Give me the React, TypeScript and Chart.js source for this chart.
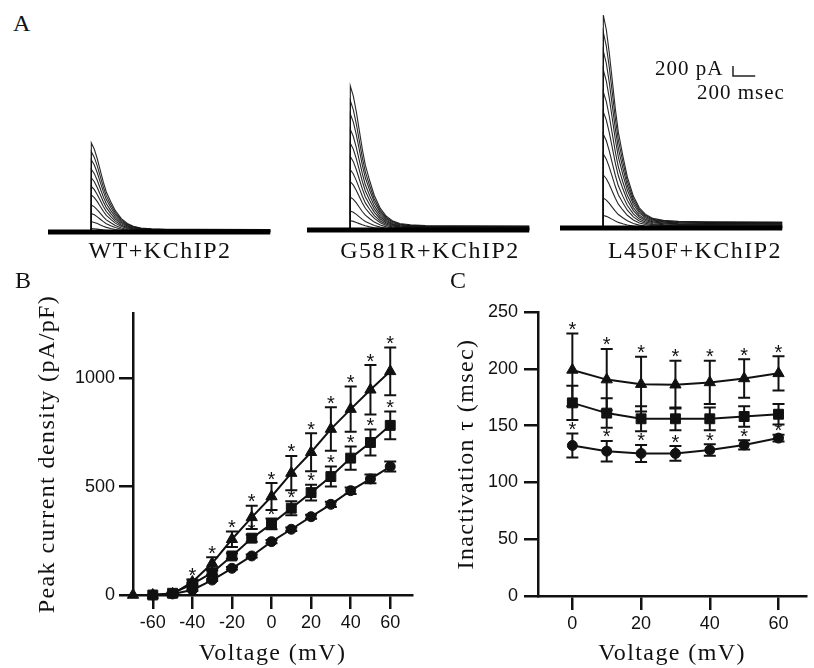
import React, { useEffect, useRef } from "react";
import { Chart, registerables } from "chart.js";

Chart.register(...registerables);

// ---------------- Panel A: current traces ----------------
const TRACE_VOLTAGES = [-60, -50, -40, -30, -20, -10, 0, 10, 20, 30, 40, 50, 60];
const WT_PEAKS_PA = [0, 15, 70, 205, 370, 540, 740, 910, 1080, 1255, 1440, 1605, 1780];
const G581R_PEAKS_PA = [0, 30, 185, 380, 660, 965, 1205, 1470, 1735, 2010, 2320, 2585, 2880];
const L450F_PEAKS_PA = [0, 20, 250, 600, 1060, 1480, 1875, 2320, 2720, 3160, 3540, 3910, 4260];
// normalised decay of the transient after the step (time after onset, ms)
const DECAY_T_MS = [0, 27, 54, 81, 108, 135, 175, 216, 270, 324, 378, 445, 540, 675, 945, 1610];
const DECAY_FRAC = [1, 0.93, 0.82, 0.69, 0.56, 0.45, 0.34, 0.24, 0.15, 0.095, 0.065, 0.045, 0.036, 0.031, 0.029, 0.028];
const STEP_ONSET_MS = 390;
const SWEEP_END_MS = 2000;
const TRACE_LABELS = ["WT+KChIP2", "G581R+KChIP2", "L450F+KChIP2"];
const SCALE_BAR_PA = 200;
const SCALE_BAR_MS = 200;

// ---------------- Panel B: I-V ----------------
const VOLT_B = [-70, -60, -50, -40, -30, -20, -10, 0, 10, 20, 30, 40, 50, 60];
const WT_B = [null, 0, 5, 23, 69, 123, 180, 246, 303, 361, 418, 481, 535, 592];
const WT_B_SEM = [0, 0, 2, 4, 5, 6, 7, 8, 8, 9, 12, 15, 20, 23];
const WT_B_SIG = [0, 0, 0, 0, 0, 0, 0, 0, 0, 0, 0, 0, 0, 0];
const G581R_B = [null, 0, 8, 50, 103, 180, 262, 328, 400, 472, 546, 631, 703, 782];
const G581R_B_SEM = [0, 0, 3, 7, 10, 13, 16, 25, 32, 36, 46, 54, 60, 64];
const G581R_B_SIG = [0, 0, 0, 0, 0, 0, 1, 1, 1, 1, 1, 1, 1, 1];
const L450F_B = [0, 0, 5, 60, 146, 257, 358, 454, 562, 658, 765, 857, 946, 1031];
const L450F_B_SEM = [0, 0, 3, 12, 28, 36, 54, 62, 79, 88, 100, 104, 114, 110];
const L450F_B_SIG = [0, 0, 0, 1, 1, 1, 1, 1, 1, 1, 1, 1, 1, 1];
const B_X_TICKS = [-60, -40, -20, 0, 20, 40, 60];
const B_Y_TICKS = [0, 500, 1000];

// ---------------- Panel C: inactivation tau ----------------
const VOLT_C = [0, 10, 20, 30, 40, 50, 60];
const WT_C = [132.5, 127.5, 125.5, 125.5, 128.5, 133, 139];
const WT_C_SEM = [10.5, 9, 7.5, 6.5, 5, 4, 3];
const WT_C_SIG = [1, 1, 1, 1, 1, 1, 1];
const G581R_C = [170, 161, 156, 156, 156, 158, 160];
const G581R_C_SEM = [15, 13, 11, 10, 10, 9, 9];
const G581R_C_SIG = [0, 0, 0, 0, 0, 0, 0];
const L450F_C = [199, 190.5, 186.5, 186, 188, 191.5, 196];
const L450F_C_SEM = [32, 27, 24, 21, 19, 17, 15];
const L450F_C_SIG = [1, 1, 1, 1, 1, 1, 1];
const C_X_TICKS = [0, 20, 40, 60];
const C_Y_TICKS = [0, 50, 100, 150, 200, 250];

const SERIF = '"Liberation Serif", "Times New Roman", serif';
const SANS = '"Liberation Sans", Arial, sans-serif';
const INK = "#111";

function spacingPlugin(px: number) {
  return {
    id: "spacedTitles",
    beforeDraw(chart: any) {
      chart.ctx.letterSpacing = `${px}px`;
    },
    beforeDatasetsDraw(chart: any) {
      chart.ctx.letterSpacing = "0px";
    },
    afterDraw(chart: any) {
      chart.ctx.letterSpacing = "0px";
    },
  };
}

const errorBarPlugin = {
  id: "errorBars",
  afterDatasetsDraw(chart: any) {
    const { ctx } = chart;
    const xs = chart.scales.x;
    const ys = chart.scales.y;
    ctx.save();
    ctx.strokeStyle = INK;
    ctx.fillStyle = INK;
    ctx.lineWidth = 2;
    chart.data.datasets.forEach((ds: any) => {
      (ds.data as any[]).forEach((p: any) => {
        if (p.y == null) return;
        const px = xs.getPixelForValue(p.x);
        const top = ys.getPixelForValue(p.y + (p.sem || 0));
        const bot = ys.getPixelForValue(p.y - (p.sem || 0));
        if (p.sem > 0) {
          ctx.beginPath();
          ctx.moveTo(px, top);
          ctx.lineTo(px, bot);
          ctx.moveTo(px - 6, top);
          ctx.lineTo(px + 6, top);
          ctx.moveTo(px - 6, bot);
          ctx.lineTo(px + 6, bot);
          ctx.stroke();
        }
        if (p.sig) {
          ctx.font = `20px ${SANS}`;
          ctx.textAlign = "center";
          ctx.textBaseline = "alphabetic";
          ctx.fillText("*", px, top + 2.5);
        }
      });
    });
    ctx.restore();
  },
};

function series(volts: number[], vals: (number | null)[], sem: number[], sig: number[]) {
  return volts
    .map((v, i) => ({ x: v, y: vals[i], sem: sem[i], sig: sig[i] }))
    .filter((p) => p.y != null);
}

function markerDs(data: any[], style: string, radius: number) {
  return {
    data,
    showLine: true,
    borderColor: INK,
    borderWidth: 2,
    pointStyle: style,
    pointRadius: radius,
    pointBackgroundColor: INK,
    pointBorderColor: INK,
    pointBorderWidth: 1,
    clip: false,
  };
}

function axis(o: {
  min: number;
  max: number;
  ticks: number[];
  title: string;
  titlePad: any;
  fit: (s: any) => void;
  tickPad: number;
}) {
  return {
    type: "linear",
    min: o.min,
    max: o.max,
    afterBuildTicks: (s: any) => {
      s.ticks = o.ticks.map((v) => ({ value: v }));
    },
    afterFit: o.fit,
    grid: {
      display: true,
      drawOnChartArea: false,
      drawTicks: true,
      tickLength: 14,
      color: INK,
      lineWidth: 2.5,
    },
    border: { display: true, color: INK, width: 2.5 },
    ticks: {
      font: { family: SANS, size: 18 },
      color: INK,
      padding: o.tickPad,
      maxRotation: 0,
      autoSkip: false,
      z: 1,
      callback: (v: any) => String(v),
    },
    title: {
      display: true,
      text: o.title,
      font: { family: SERIF, size: 24 },
      color: INK,
      padding: o.titlePad,
    },
  };
}

function traceConfig(peaks: number[], yMin: number, withScaleBar: boolean) {
  const datasets: any[] = [
    {
      data: [
        { x: 0, y: 0 },
        { x: SWEEP_END_MS, y: 0 },
      ],
      showLine: true,
      borderColor: "#000",
      borderWidth: 5,
      pointRadius: 0,
      clip: false,
    },
  ];
  peaks.forEach((pk) => {
    datasets.push({
      data: [
        { x: STEP_ONSET_MS, y: 0 },
        ...DECAY_T_MS.map((t, i) => ({ x: STEP_ONSET_MS + t, y: pk * DECAY_FRAC[i] })),
      ],
      showLine: true,
      borderColor: "rgba(15,15,15,0.9)",
      borderWidth: 1.1,
      pointRadius: 0,
      clip: false,
    });
  });
  if (withScaleBar) {
    const sx = 1557;
    const sy = 3040;
    datasets.push({
      data: [
        { x: sx, y: sy + SCALE_BAR_PA },
        { x: sx, y: sy },
        { x: sx + SCALE_BAR_MS, y: sy },
      ],
      showLine: true,
      borderColor: "#222",
      borderWidth: 1.5,
      pointRadius: 0,
      clip: false,
    });
  }
  return {
    type: "scatter",
    data: { datasets },
    options: {
      animation: false,
      responsive: false,
      maintainAspectRatio: false,
      layout: { padding: 0 },
      plugins: { legend: { display: false }, tooltip: { enabled: false } },
      scales: {
        x: { type: "linear", min: 0, max: 2016, display: false },
        y: { type: "linear", min: yMin, max: yMin + 4800, display: false },
      },
    },
  };
}

export default function App() {
  const aWT = useRef<HTMLCanvasElement>(null);
  const aG = useRef<HTMLCanvasElement>(null);
  const aL = useRef<HTMLCanvasElement>(null);
  const bRef = useRef<HTMLCanvasElement>(null);
  const cRef = useRef<HTMLCanvasElement>(null);

  useEffect(() => {
    const charts: Chart[] = [];
    charts.push(new Chart(aWT.current as any, traceConfig(WT_PEAKS_PA, -160, false) as any));
    charts.push(new Chart(aG.current as any, traceConfig(G581R_PEAKS_PA, -200, false) as any));
    charts.push(new Chart(aL.current as any, traceConfig(L450F_PEAKS_PA, -240, true) as any));

    charts.push(
      new Chart(bRef.current as any, {
        type: "scatter",
        data: {
          datasets: [
            { label: "WT+KChIP2", ...markerDs(series(VOLT_B, WT_B, WT_B_SEM, WT_B_SIG), "circle", 5) },
            { label: "G581R+KChIP2", ...markerDs(series(VOLT_B, G581R_B, G581R_B_SEM, G581R_B_SIG), "rect", 7) },
            { label: "L450F+KChIP2", ...markerDs(series(VOLT_B, L450F_B, L450F_B_SEM, L450F_B_SIG), "triangle", 6.5) },
          ],
        },
        options: {
          animation: false,
          responsive: false,
          maintainAspectRatio: false,
          layout: { padding: { top: 43, right: 3, left: 0, bottom: 0 } },
          plugins: { legend: { display: false }, tooltip: { enabled: false } },
          scales: {
            x: axis({
              min: -70,
              max: 71,
              ticks: B_X_TICKS,
              title: "Voltage (mV)",
              titlePad: { top: 0, bottom: 0 },
              fit: (s: any) => {
                s.height = 73;
              },
              tickPad: 3,
            }),
            y: axis({
              min: 0,
              max: 1300,
              ticks: B_Y_TICKS,
              title: "Peak current density (pA/pF)",
              titlePad: { top: 33, bottom: 0 },
              fit: (s: any) => {
                s.width = 133;
              },
              tickPad: 4,
            }),
          },
        } as any,
        plugins: [errorBarPlugin, spacingPlugin(1.4)],
      } as any)
    );

    charts.push(
      new Chart(cRef.current as any, {
        type: "scatter",
        data: {
          datasets: [
            { label: "WT+KChIP2", ...markerDs(series(VOLT_C, WT_C, WT_C_SEM, WT_C_SIG), "circle", 5) },
            { label: "G581R+KChIP2", ...markerDs(series(VOLT_C, G581R_C, G581R_C_SEM, G581R_C_SIG), "rect", 7) },
            { label: "L450F+KChIP2", ...markerDs(series(VOLT_C, L450F_C, L450F_C_SEM, L450F_C_SIG), "triangle", 6.5) },
          ],
        },
        options: {
          animation: false,
          responsive: false,
          maintainAspectRatio: false,
          layout: { padding: { top: 42, right: 0, left: 0, bottom: 0 } },
          plugins: { legend: { display: false }, tooltip: { enabled: false } },
          scales: {
            x: axis({
              min: -10,
              max: 68,
              ticks: C_X_TICKS,
              title: "Voltage (mV)",
              titlePad: { top: 0, bottom: 0 },
              fit: (s: any) => {
                s.height = 72;
              },
              tickPad: 3,
            }),
            y: axis({
              min: 0,
              max: 250,
              ticks: C_Y_TICKS,
              title: "Inactivation \u03c4 (msec)",
              titlePad: { top: 32, bottom: 0 },
              fit: (s: any) => {
                s.width = 118;
              },
              tickPad: 6,
            }),
          },
        } as any,
        plugins: [errorBarPlugin, spacingPlugin(1.4)],
      } as any)
    );

    return () => {
      charts.forEach((c) => c.destroy());
    };
  }, []);

  const abs = (o: any) => ({ position: "absolute" as const, ...o });
  const serifText = (size: number, spacing: number) => ({
    fontFamily: SERIF,
    fontSize: size,
    lineHeight: 1,
    color: INK,
    letterSpacing: spacing,
    whiteSpace: "nowrap" as const,
  });

  return (
    <div style={abs({ left: 0, top: 0, width: 814, height: 668, background: "#fff", overflow: "hidden" })}>
      <canvas ref={aWT} width={224} height={240} style={abs({ left: 48, top: 0 })} />
      <canvas ref={aG} width={224} height={240} style={abs({ left: 307, top: 0 })} />
      <canvas ref={aL} width={224} height={240} style={abs({ left: 560, top: 0 })} />
      <canvas ref={bRef} width={420} height={398} style={abs({ left: 0, top: 270 })} />
      <canvas ref={cRef} width={394} height={398} style={abs({ left: 420, top: 270 })} />

      <div style={abs({ left: 13, top: 11, ...serifText(24, 0) })}>A</div>
      <div style={abs({ left: 15, top: 268, ...serifText(24, 0) })}>B</div>
      <div style={abs({ left: 450, top: 268, ...serifText(24, 0) })}>C</div>

      <div style={abs({ left: 655, top: 58, ...serifText(21, 1) })}>200 pA</div>
      <div style={abs({ left: 697, top: 82, ...serifText(21, 1) })}>200 msec</div>

      {TRACE_LABELS.map((t, i) => (
        <div
          key={t}
          style={abs({
            left: [160, 430, 695][i],
            top: 238,
            transform: "translateX(-50%)",
            ...serifText(24, 1.5),
          })}
        >
          {t}
        </div>
      ))}
    </div>
  );
}
